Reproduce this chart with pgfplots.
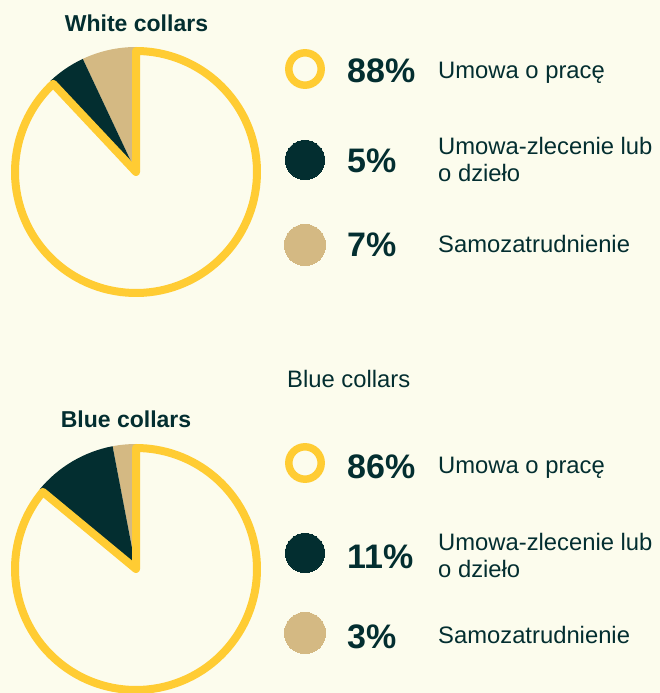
\documentclass[border=0pt]{standalone}
\usepackage{fontspec}
\setmainfont{Liberation Sans}
\usepackage{pgfplots}
\usepackage{pgfplotstable}
\pgfplotsset{compat=1.18}
\definecolor{bg}{RGB}{252,252,237}
\definecolor{yel}{RGB}{255,204,51}
\definecolor{dk}{RGB}{3,46,48}
\definecolor{tn}{RGB}{212,185,131}

\pgfplotstableread{
cat value
praca 88
zlecenie 5
samo 7
}\whitetab
\pgfplotstableread{
cat value
praca 86
zlecenie 11
samo 3
}\bluetab

\newcommand\getval[3]{\pgfplotstablegetelem{#2}{value}\of{#1}\global\let#3\pgfplotsretval}
\newcommand\lbl{\fontsize{23.8bp}{28bp}\selectfont}
\newcommand\pct{\fontsize{34bp}{38bp}\selectfont\bfseries}
\newcommand\ttl{\fontsize{23bp}{27bp}\selectfont\bfseries}

% pie: center x, center y, end angle of tan, end angle of dark
\newcommand\pie[4]{%
  \fill[tn] (axis cs:#1,#2) -- ++(90:125bp) arc[start angle=90,end angle=#3,radius=125bp] -- cycle;
  \fill[dk] (axis cs:#1,#2) -- ++(#3:125bp) arc[start angle=#3,end angle=#4,radius=125bp] -- cycle;
  \draw[yel, line width=8bp, line join=round] (axis cs:#1,#2) -- ++(#4:121bp) arc[start angle=#4,end angle=450,radius=121bp] -- cycle;
}

\getval\whitetab{1}\wZ
\getval\whitetab{2}\wS
\getval\bluetab{1}\bZ
\getval\bluetab{2}\bS
\pgfmathsetmacro\wA{90+3.6*\wS}
\pgfmathsetmacro\wB{\wA+3.6*\wZ}
\pgfmathsetmacro\bA{90+3.6*\bS}
\pgfmathsetmacro\bB{\bA+3.6*\bZ}

\begin{document}%
\begin{tikzpicture}
\fill[bg] (0,0) rectangle (660bp,693bp);
\useasboundingbox (0,0) rectangle (660bp,693bp);
\begin{axis}[at={(0,0)}, anchor=origin, x=1bp, y=1bp,
  xmin=0, xmax=660, ymin=0, ymax=693, hide axis, clip=true]
  \pie{136}{521}{\wA}{\wB}
  \pie{136}{124}{\bA}{\bB}
  % legend markers
  \addplot[only marks, mark=o, mark size=16.2bp, mark options={draw=yel, line width=7.5bp}] coordinates {(305,624) (305,230)};
  \addplot[only marks, mark=*, mark size=19.7bp, mark options={draw=dk, fill=dk, line width=0pt}] coordinates {(305,533) (305,140)};
  \addplot[only marks, mark=*, mark size=20.6bp, mark options={draw=tn, fill=tn, line width=0pt}] coordinates {(305,448) (305,60)};
  % titles
  \node[anchor=base, inner sep=0pt, text=dk, font=\ttl] at (axis cs:136.5,661) {White collars};
  \node[anchor=base, inner sep=0pt, text=dk, font=\ttl] at (axis cs:126,266) {Blue collars};
  \node[anchor=base west, inner sep=0pt, text=dk, font=\lbl] at (axis cs:287,306) {Blue collars};
  % top legend
  \node[anchor=base west, inner sep=0pt, text=dk, font=\pct] at (axis cs:347,610.3) {88\%};
  \node[anchor=base west, inner sep=0pt, text=dk, font=\lbl] at (axis cs:438,614.7) {Umowa o pracę};
  \node[anchor=base west, inner sep=0pt, text=dk, font=\pct] at (axis cs:347,520) {5\%};
  \node[anchor=base west, inner sep=0pt, text=dk, font=\lbl] at (axis cs:438,538) {Umowa-zlecenie lub};
  \node[anchor=base west, inner sep=0pt, text=dk, font=\lbl] at (axis cs:438,511) {o dzieło};
  \node[anchor=base west, inner sep=0pt, text=dk, font=\pct] at (axis cs:347,436) {7\%};
  \node[anchor=base west, inner sep=0pt, text=dk, font=\lbl] at (axis cs:438,440) {Samozatrudnienie};
  % bottom legend
  \node[anchor=base west, inner sep=0pt, text=dk, font=\pct] at (axis cs:347,215) {86\%};
  \node[anchor=base west, inner sep=0pt, text=dk, font=\lbl] at (axis cs:438,220) {Umowa o pracę};
  \node[anchor=base west, inner sep=0pt, text=dk, font=\pct] at (axis cs:347,125) {11\%};
  \node[anchor=base west, inner sep=0pt, text=dk, font=\lbl] at (axis cs:438,143) {Umowa-zlecenie lub};
  \node[anchor=base west, inner sep=0pt, text=dk, font=\lbl] at (axis cs:438,116) {o dzieło};
  \node[anchor=base west, inner sep=0pt, text=dk, font=\pct] at (axis cs:347,45) {3\%};
  \node[anchor=base west, inner sep=0pt, text=dk, font=\lbl] at (axis cs:438,50) {Samozatrudnienie};
\end{axis}
\end{tikzpicture}%
\end{document}
